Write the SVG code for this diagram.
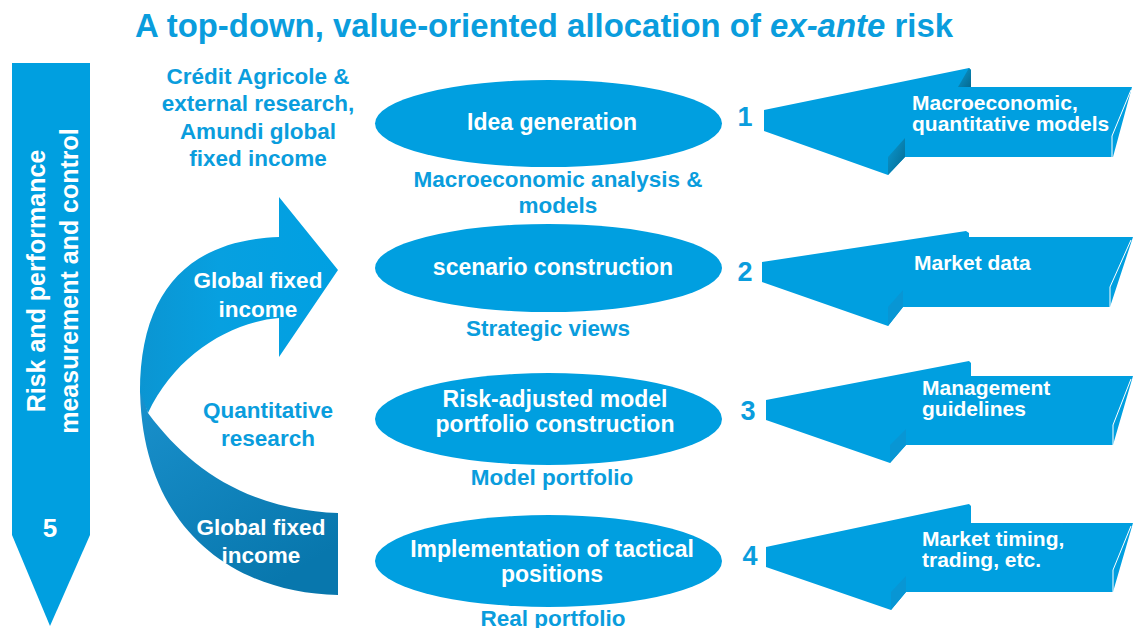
<svg xmlns="http://www.w3.org/2000/svg" width="1133" height="628" viewBox="0 0 1133 628">
  <defs>
    <style>
      .t{font-family:"Liberation Sans",Arial,Helvetica,sans-serif;font-weight:bold}
      .blue{fill:#0a9ddd}
      .white{fill:#ffffff}
      .mid{text-anchor:middle}
      .fill{fill:#009fe0}
      .edge{fill:none;stroke:#ffffff;stroke-width:1}
      .faint{fill:#0896d4}
      .num{font-size:27px}
      .ell{font-size:23px}
      .cap{font-size:22.5px}
      .inp{font-size:21px}
    </style>
    <linearGradient id="stepShade" x1="0" y1="0" x2="1" y2="1">
      <stop offset="0" stop-color="#0a9ad4"/>
      <stop offset="1" stop-color="#05698f"/>
    </linearGradient>
    <linearGradient id="ribbonHigh" x1="0" y1="0" x2="1" y2="0">
      <stop offset="0" stop-color="#0b95d2"/>
      <stop offset="0.4" stop-color="#07a0e0"/>
      <stop offset="1" stop-color="#00a0e2"/>
    </linearGradient>
    <linearGradient id="ribbonLow" x1="0" y1="0" x2="0.6" y2="1">
      <stop offset="0" stop-color="#1a91cd"/>
      <stop offset="1" stop-color="#0877ad"/>
    </linearGradient>
  </defs>

  <rect width="1133" height="628" fill="#ffffff"/>

  <!-- heading -->
  <text class="t blue" x="135" y="37" font-size="33" textLength="818" lengthAdjust="spacingAndGlyphs">A top-down, value-oriented allocation of <tspan font-style="italic">ex-ante</tspan> risk</text>

  <!-- left control column -->
  <g id="control">
    <polygon class="fill" points="12,63 90,63 90,535 50,626 12,535"/>
    <text class="t white" font-size="25" text-anchor="middle" transform="translate(45,281) rotate(-90)">Risk and performance</text>
    <text class="t white" font-size="25" text-anchor="middle" transform="translate(78,281) rotate(-90)">measurement and control</text>
    <text class="t white mid" x="50" y="537" font-size="26">5</text>
  </g>

  <!-- research sources -->
  <g id="sources">
    <text class="t blue cap mid" x="258" y="84">Crédit Agricole &amp;</text>
    <text class="t blue cap mid" x="258" y="111">external research,</text>
    <text class="t blue cap mid" x="258" y="139">Amundi global</text>
    <text class="t blue cap mid" x="258" y="166">fixed income</text>
  </g>

  <!-- curved flow ribbon -->
  <g id="connectors">
    <path fill="url(#ribbonLow)" d="M140,385 C140,525 230,593 338,595 L338,513 C250,510 190,470 148,413 Z"/>
    <path fill="url(#ribbonHigh)" d="M279,237 C190,240 140,290 140,392 L148,413 C175,355 230,322 279,318 L279,357 L338,270 L279,197 Z"/>
    <text class="t white cap mid" x="258" y="288">Global fixed</text>
    <text class="t white cap mid" x="258" y="317">income</text>
    <text class="t blue cap mid" x="268" y="418">Quantitative</text>
    <text class="t blue cap mid" x="268" y="446">research</text>
    <text class="t white cap mid" x="261" y="535">Global fixed</text>
    <text class="t white cap mid" x="261" y="563">income</text>
  </g>

  <!-- process steps -->
  <g id="step1">
    <ellipse class="fill" cx="548.5" cy="123.5" rx="173.5" ry="43.5"/>
    <text class="t white ell mid" x="552" y="130">Idea generation</text>
    <text class="t blue cap mid" x="558" y="187">Macroeconomic analysis &amp;</text>
    <text class="t blue cap mid" x="558" y="213">models</text>
  </g>
  <g id="step2">
    <ellipse class="fill" cx="548.5" cy="268" rx="173.5" ry="44"/>
    <text class="t white ell mid" x="553" y="275">scenario construction</text>
    <text class="t blue cap mid" x="548" y="336">Strategic views</text>
  </g>
  <g id="step3">
    <ellipse class="fill" cx="548.5" cy="419" rx="173.5" ry="46"/>
    <text class="t white ell mid" x="555" y="407">Risk-adjusted model</text>
    <text class="t white ell mid" x="555" y="432">portfolio construction</text>
    <text class="t blue cap mid" x="552" y="485">Model portfolio</text>
  </g>
  <g id="step4">
    <ellipse class="fill" cx="548.5" cy="561" rx="173.5" ry="46"/>
    <text class="t white ell mid" x="552" y="557">Implementation of tactical</text>
    <text class="t white ell mid" x="552" y="582">positions</text>
    <text class="t blue cap mid" x="553" y="626">Real portfolio</text>
  </g>

  <!-- inputs: block arrows pointing into each step -->
  <g id="input1">
    <text class="t blue num mid" x="745" y="126">1</text>
    <polygon class="fill" points="764,110 969,68 971,70 971,87 1132,87 1113,157 905,157 888,175 764,131"/>
    <polygon fill="url(#stepShade)" points="969,68 971,70 971,87 958,87"/>
    <polygon fill="url(#stepShade)" points="905,138 905,157 888,175 888,157"/>
    <polyline class="edge" points="1131,90 1112,136 1112,157"/>
    <text class="t white inp" x="912" y="110">Macroeconomic,</text>
    <text class="t white inp" x="912" y="131">quantitative models</text>
  </g>
  <g id="input2">
    <text class="t blue num mid" x="745" y="281">2</text>
    <polygon class="fill" points="762,262 966,231 969,233 969,237 1133,237 1110,307 903,307 888,326 762,282"/>
    <polygon class="faint" points="903,290 903,307 888,326 888,307"/>
    <polyline class="edge" points="1131,240 1110,287 1110,307"/>
    <text class="t white inp" x="914" y="270">Market data</text>
  </g>
  <g id="input3">
    <text class="t blue num mid" x="748" y="420">3</text>
    <polygon class="fill" points="766,400 969,361 971,363 971,376 1133,376 1113,445 906,445 890,463 766,420"/>
    <polygon class="faint" points="906,429 906,445 890,463 890,445"/>
    <polyline class="edge" points="1131,379 1113,425 1113,445"/>
    <text class="t white inp" x="922" y="395">Management</text>
    <text class="t white inp" x="922" y="416">guidelines</text>
  </g>
  <g id="input4">
    <text class="t blue num mid" x="750" y="565">4</text>
    <polygon class="fill" points="766,547 969,504 971,506 971,523 1133,523 1113,592 906,592 891,610 766,567"/>
    <polygon class="faint" points="906,576 906,592 891,610 891,592"/>
    <polyline class="edge" points="1131,526 1113,570 1113,592"/>
    <text class="t white inp" x="922" y="546">Market timing,</text>
    <text class="t white inp" x="922" y="567">trading, etc.</text>
  </g>
</svg>
